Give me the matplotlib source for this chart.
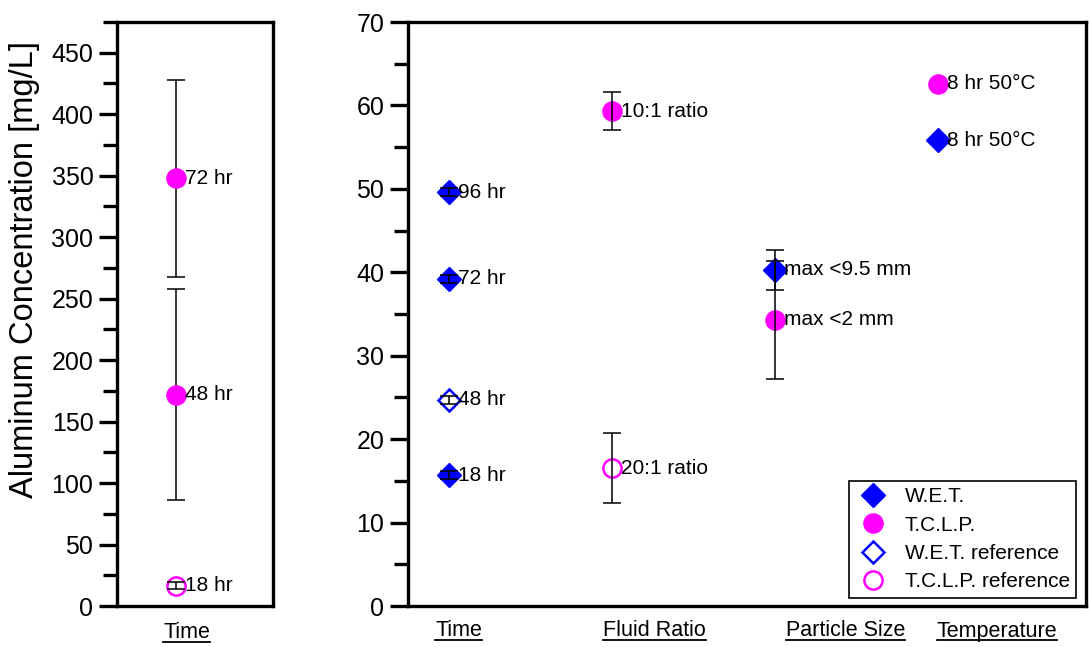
import matplotlib
matplotlib.use("Agg")
import matplotlib.pyplot as plt
from matplotlib.lines import Line2D
from matplotlib.ticker import MultipleLocator
import matplotlib.transforms as mtransforms

plt.rcParams['font.family'] = ['Liberation Sans', 'DejaVu Sans']

BLUE = '#0000FF'
MAG = '#FF00FF'

# ---------------- data ----------------
# left panel (Time, T.C.L.P.)
left_tclp_labels = ['72 hr', '48 hr']
left_tclp_vals = [348, 172]
left_tclp_err = [80, 86]
left_tclpref_labels = ['18 hr']
left_tclpref_vals = [16.5]
left_tclpref_err = [3]

categories = ['Time', 'Fluid Ratio', 'Particle Size', 'Temperature']

# right panel W.E.T. (filled diamonds): category index, value, error, label
wet_x = [1, 1, 1, 3, 4]
wet_vals = [49.6, 39.2, 15.7, 40.3, 55.8]
wet_err = [0.45, 0.45, 0.45, 2.4, 0.0]
wet_labels = ['96 hr', '72 hr', '18 hr', 'max <9.5 mm', '8 hr 50°C']

# W.E.T. reference (open diamond)
wetref_x = [1]
wetref_vals = [24.7]
wetref_err = [0.45]
wetref_labels = ['48 hr']

# T.C.L.P. (filled circles)
tclp_x = [2, 3, 4]
tclp_vals = [59.3, 34.3, 62.6]
tclp_err = [2.3, 7.1, 0.0]
tclp_labels = ['10:1 ratio', 'max <2 mm', '8 hr 50°C']

# T.C.L.P. reference (open circle)
tclpref_x = [2]
tclpref_vals = [16.5]
tclpref_err = [4.2]
tclpref_labels = ['20:1 ratio']

# ---------------- figure ----------------
fig = plt.figure(figsize=(10.89, 6.47), dpi=100)
axL = fig.add_axes([117/1089, 1-606/647, 156/1089, 584/647])
axR = fig.add_axes([408/1089, 1-606/647, 678/1089, 584/647])

SPW = 2.4
DIA_MS = 12
CIR_MS = 13.8
CAP = 6.5
ELW = 1.1
LBL_FS = 15


def style(ax):
    for s in ax.spines.values():
        s.set_linewidth(SPW)
    ax.tick_params(axis='y', which='major', direction='out', length=13, width=SPW,
                   labelsize=18, pad=4)
    ax.tick_params(axis='y', which='minor', direction='out', length=10, width=SPW)
    ax.tick_params(axis='x', which='both', bottom=False, labelbottom=False)


def label_points(ax, xs, ys, labels):
    for x, y, t in zip(xs, ys, labels):
        ax.annotate(t, (x, y), xytext=(6.5, 0), textcoords='offset points',
                    ha='left', va='center', fontsize=LBL_FS, zorder=6)


# ----- left panel -----
xl = 1.5
axL.set_xlim(0, 4)
axL.set_ylim(0, 475)
axL.yaxis.set_major_locator(MultipleLocator(50))
axL.yaxis.set_minor_locator(MultipleLocator(25))
style(axL)
axL.errorbar([xl]*len(left_tclp_vals), left_tclp_vals, yerr=left_tclp_err, fmt='none',
             ecolor='black', elinewidth=ELW, capsize=CAP, capthick=ELW, zorder=2)
axL.plot([xl]*len(left_tclp_vals), left_tclp_vals, 'o', color=MAG, ms=CIR_MS,
         mec=MAG, zorder=3)
axL.plot([xl]*len(left_tclpref_vals), left_tclpref_vals, 'o', mfc='white', mec=MAG,
         ms=CIR_MS*0.95, mew=1.8, zorder=3)
axL.errorbar([xl]*len(left_tclpref_vals), left_tclpref_vals, yerr=left_tclpref_err,
             fmt='none', ecolor='black', elinewidth=ELW, capsize=CAP, capthick=ELW, zorder=4)
label_points(axL, [xl]*2, left_tclp_vals, left_tclp_labels)
label_points(axL, [xl], left_tclpref_vals, left_tclpref_labels)
axL.set_ylabel('Aluminum Concentration [mg/L]', fontsize=23.5)
axL.yaxis.set_label_coords((40-117)/156, (606-270)/584)

# ----- right panel -----
axR.set_xlim(0.75, 4.905)
axR.set_ylim(0, 70)
axR.yaxis.set_major_locator(MultipleLocator(10))
axR.yaxis.set_minor_locator(MultipleLocator(5))
style(axR)

axR.plot(wet_x, wet_vals, 'D', color=BLUE, ms=DIA_MS, zorder=3, label='W.E.T.')
axR.plot(tclp_x, tclp_vals, 'o', color=MAG, ms=CIR_MS, zorder=3, label='T.C.L.P.')
axR.plot(wetref_x, wetref_vals, 'D', mfc='white', mec=BLUE, mew=1.8, ms=DIA_MS*0.95,
         zorder=3, label='W.E.T. reference')
axR.plot(tclpref_x, tclpref_vals, 'o', mfc='white', mec=MAG, mew=1.8, ms=CIR_MS*0.95,
         zorder=3, label='T.C.L.P. reference')

for xs, ys, es in [(wet_x, wet_vals, wet_err), (tclp_x, tclp_vals, tclp_err),
                   (wetref_x, wetref_vals, wetref_err), (tclpref_x, tclpref_vals, tclpref_err)]:
    xx = [x for x, e in zip(xs, es) if e > 0]
    yy = [y for y, e in zip(ys, es) if e > 0]
    ee = [e for e in es if e > 0]
    if xx:
        axR.errorbar(xx, yy, yerr=ee, fmt='none', ecolor='black', elinewidth=ELW,
                     capsize=CAP, capthick=ELW, zorder=4)

label_points(axR, wet_x, wet_vals, wet_labels)
label_points(axR, tclp_x, tclp_vals, tclp_labels)
label_points(axR, wetref_x, wetref_vals, wetref_labels)
label_points(axR, tclpref_x, tclpref_vals, tclpref_labels)

leg = axR.legend(loc='lower right', fontsize=15, frameon=True, fancybox=False,
                 edgecolor='black', framealpha=1, borderpad=0.3, labelspacing=0.45,
                 handletextpad=0.7, handlelength=1.7, borderaxespad=0.4,
                 bbox_to_anchor=(0.998, 0.0))
leg.get_frame().set_linewidth(1.2)

# category labels (underlined)
cat_texts = []
transL = mtransforms.blended_transform_factory(axL.transData, fig.transFigure)
cat_texts.append(fig.text(1.79, 1-633/647, 'Time', transform=transL, ha='center',
                          va='center', fontsize=15.5))
transR = mtransforms.blended_transform_factory(axR.transData, fig.transFigure)
cat_offsets = [0.06, 0.26, 0.43, 0.36]
for i, c in enumerate(categories):
    cat_texts.append(fig.text(i + 1 + cat_offsets[i], 1-631/647, c, transform=transR,
                              ha='center', va='center', fontsize=15.5))

fig.canvas.draw()
r = fig.canvas.get_renderer()
inv = fig.transFigure.inverted()
for t in cat_texts:
    bb = t.get_window_extent(r)
    (x0, y0), (x1, y1) = inv.transform([(bb.x0, bb.y0), (bb.x1, bb.y1)])
    yline = y0 + 0.08 * (y1 - y0)
    fig.add_artist(Line2D([x0, x1], [yline, yline], transform=fig.transFigure,
                          color='black', lw=1.3))

fig.savefig('out.png', dpi=100)
